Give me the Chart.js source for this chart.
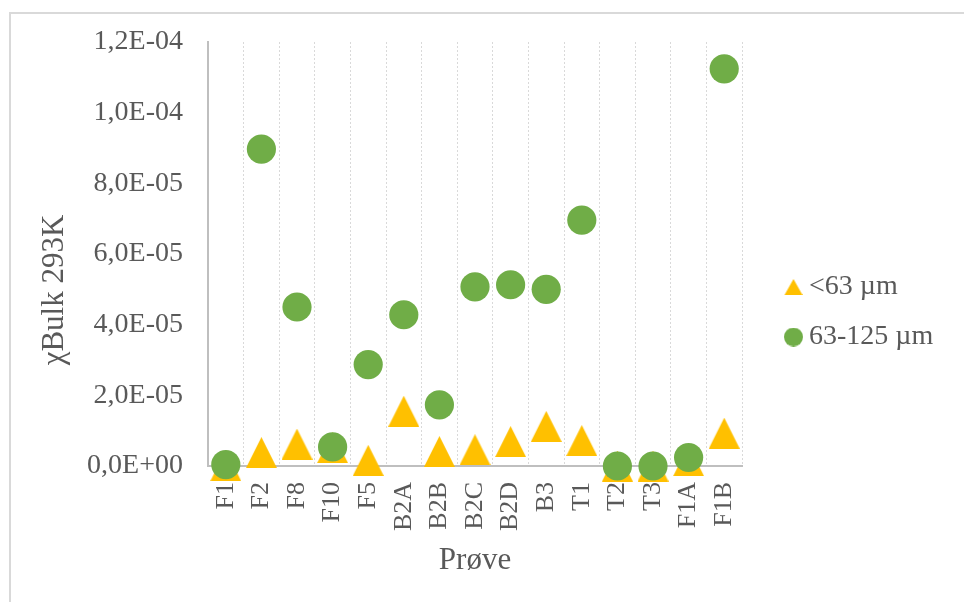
<!DOCTYPE html>
<html>
<head>
<meta charset="utf-8">
<script src="https://cdn.jsdelivr.net/npm/chart.js@4/dist/chart.umd.min.js"></script>
<style>
html, body { margin: 0; padding: 0; background: #ffffff; overflow: hidden; width: 964px; height: 602px; }
#frame { position: absolute; left: 9px; top: 12px; width: 1400px; height: 1400px; border: 2px solid #d9d9d9; box-sizing: border-box; }
#c { position: absolute; left: 0; top: 0; }
</style>
</head>
<body>
<div id="frame"></div>
<canvas id="c" width="964" height="602"></canvas>
<script>
// ---- data ----
const categories = ['F1', 'F2', 'F8', 'F10', 'F5', 'B2A', 'B2B', 'B2C', 'B2D', 'B3', 'T1', 'T2', 'T3', 'F1A', 'F1B'];
const seriesNames = ['<63 µm', '63-125 µm'];
const fineValues = [1e-7, 3.8e-6, 6.2e-6, 5.2e-6, 1.6e-6, 1.55e-5, 4.1e-6, 4.6e-6, 6.9e-6, 1.12e-5, 7.2e-6, 0, 0, 1.5e-6, 9.3e-6];
const coarseValues = [4e-7, 8.97e-5, 4.50e-5, 5.4e-6, 2.87e-5, 4.28e-5, 1.73e-5, 5.07e-5, 5.13e-5, 5.0e-5, 6.96e-5, 0, 0, 2.4e-6, 1.124e-4];
const yTickValues = [0, 2e-5, 4e-5, 6e-5, 8e-5, 1e-4, 1.2e-4];
const yTickLabels = ['0,0E+00', '2,0E-05', '4,0E-05', '6,0E-05', '8,0E-05', '1,0E-04', '1,2E-04'];
const xTitle = 'Prøve';
const yTitle = 'χBulk 293K';

// ---- styles ----
const FONT = '"Liberation Serif", "Times New Roman", serif';
const TEXT = '#595959';
const YELLOW = '#FFC000';
const GREEN = '#70AD47';

function makeTriangle(w, h, color, shift) {
  const c = document.createElement('canvas');
  c.width = w + 2 * shift; c.height = h;
  const g = c.getContext('2d');
  g.fillStyle = color;
  g.beginPath();
  g.moveTo(2 * shift + w / 2, 0);
  g.lineTo(2 * shift + w, h);
  g.lineTo(2 * shift, h);
  g.closePath();
  g.fill();
  return c;
}
function makeCircle(d, color, shift) {
  const c = document.createElement('canvas');
  c.width = d + 2 * shift; c.height = d;
  const g = c.getContext('2d');
  g.fillStyle = color;
  g.beginPath();
  g.arc(2 * shift + d / 2, d / 2, d / 2, 0, Math.PI * 2);
  g.fill();
  return c;
}

const triMarker = makeTriangle(31, 31, YELLOW, 0);
const legendMarkers = [makeTriangle(18, 16, YELLOW, 14), makeCircle(19, GREEN, 14)];

// legend sizing -> right padding so plot ends at the reference edge
const LEG_FONT = 28, LEG_PAD = 22, LEG_BOX = 31;
const mctx = document.createElement('canvas').getContext('2d');
mctx.font = LEG_FONT + 'px ' + FONT;
const maxLabelW = Math.max(...seriesNames.map(t => mctx.measureText(t).width));
const legendW = LEG_PAD + LEG_BOX + LEG_FONT / 2 + maxLabelW + 10;
const padRight = Math.max(0, 964 - 742 - legendW);

Chart.defaults.font.family = FONT;
Chart.defaults.color = TEXT;

// Excel centres the value-axis title lower than the plot centre; shift Chart.js' own title draw
const yTitleShift = {
  id: 'yTitleShift',
  afterLayout(chart) {
    const s = chart.scales.y;
    if (s._shiftPatched) return;
    const orig = s.drawTitle;
    s.drawTitle = function () {
      const b = this.bottom;
      this.bottom = b + 72;
      orig.call(this);
      this.bottom = b;
    };
    s._shiftPatched = true;
  }
};

new Chart(document.getElementById('c'), {
  type: 'line',
  data: {
    labels: categories,
    datasets: [
      {
        label: seriesNames[0],
        data: fineValues,
        showLine: false,
        pointStyle: triMarker,
        pointRadius: 15,
        pointBorderWidth: 0,
        backgroundColor: YELLOW,
        borderColor: YELLOW,
        clip: false,
        order: 1
      },
      {
        label: seriesNames[1],
        data: coarseValues,
        showLine: false,
        pointStyle: 'circle',
        pointRadius: 14.6,
        pointBorderWidth: 0,
        backgroundColor: GREEN,
        borderColor: GREEN,
        clip: false,
        order: 0
      }
    ]
  },
  options: {
    responsive: false,
    animation: false,
    devicePixelRatio: 1,
    layout: { padding: { top: 42, bottom: 20, left: 20, right: padRight } },
    scales: {
      x: {
        type: 'category',
        offset: true,
        grid: { display: true, offset: true, color: '#d9d9d9', lineWidth: 1, drawTicks: false },
        border: { display: true, color: '#bfbfbf', width: 2, dash: [2, 2] },
        ticks: { autoSkip: false, maxRotation: 90, minRotation: 90, padding: 16, color: TEXT, font: { size: 26 } },
        title: { display: true, text: xTitle, color: TEXT, font: { size: 31 }, padding: { top: 0, bottom: 3 } },
        afterFit: s => { s.height = 116; }
      },
      y: {
        min: 0,
        max: 1.2e-4,
        afterBuildTicks: s => { s.ticks = yTickValues.map(v => ({ value: v })); },
        grid: { display: false, drawTicks: false },
        border: { display: true, color: '#bfbfbf', width: 2 },
        ticks: { padding: 25, color: TEXT, font: { size: 28 }, callback: (v, i) => yTickLabels[i] },
        title: { display: true, text: yTitle, color: TEXT, font: { size: 31 }, padding: { top: 16, bottom: 0 } },
        afterFit: s => { s.width = 188; }
      }
    },
    plugins: {
      tooltip: { enabled: false },
      legend: {
        position: 'right',
        align: 'center',
        labels: {
          usePointStyle: true,
          pointStyleWidth: LEG_BOX,
          padding: LEG_PAD,
          color: TEXT,
          font: { size: LEG_FONT },
          generateLabels: chart => chart.data.datasets.map((ds, i) => ({
            text: ds.label,
            fillStyle: ds.backgroundColor,
            strokeStyle: ds.backgroundColor,
            lineWidth: 0,
            pointStyle: legendMarkers[i],
            hidden: !chart.isDatasetVisible(i),
            datasetIndex: i,
            fontColor: TEXT
          }))
        }
      }
    }
  },
  plugins: [yTitleShift]
});
</script>
</body>
</html>
